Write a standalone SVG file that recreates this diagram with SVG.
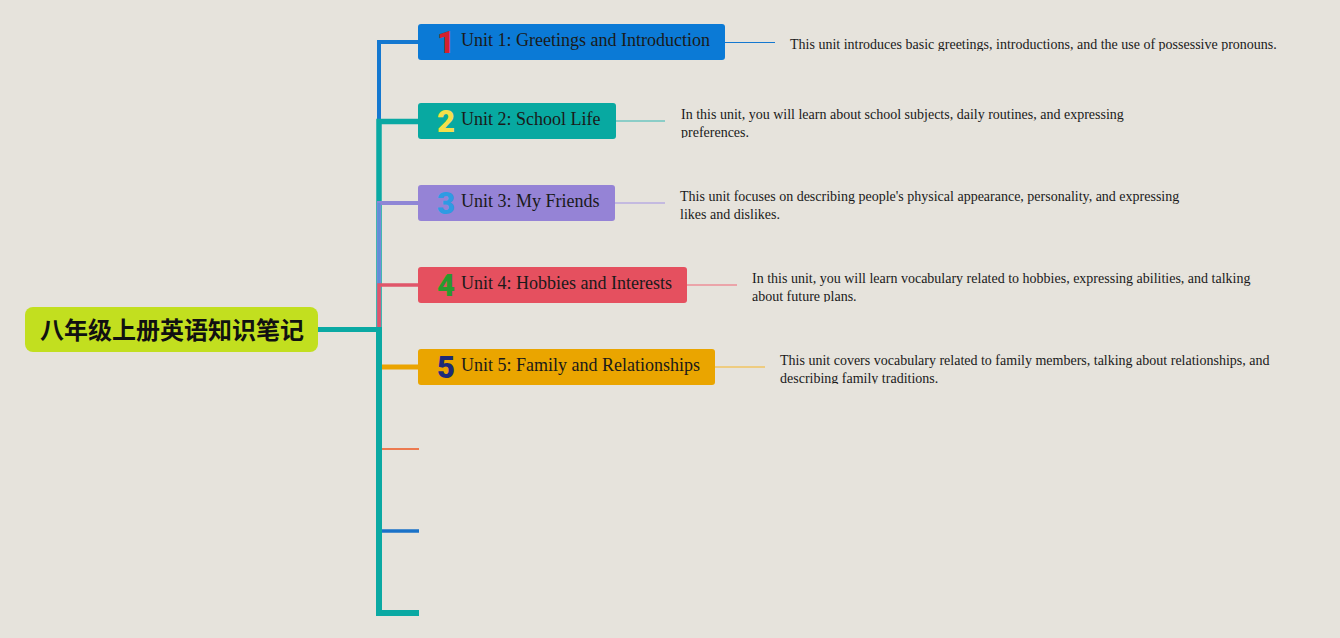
<svg xmlns="http://www.w3.org/2000/svg" width="1340" height="638" viewBox="0 0 1340 638">
<defs>
<style>
.box{rx:3;ry:3}
.num{font-family:Roboto,"Noto Sans",sans-serif;font-weight:900;font-size:31px;text-anchor:middle}
.lbl{font-family:"Liberation Serif",serif;font-size:18px;fill:#1a1a1a}
.desc{font-family:"Liberation Serif",serif;font-size:14px;fill:#1a1a1a}
.ln{fill:none;stroke-linejoin:miter;stroke-linecap:butt}
</style>
<clipPath id="c1"><rect x="780" y="28" width="520" height="23"/></clipPath>
<clipPath id="c2"><rect x="670" y="103" width="520" height="35"/></clipPath>
<clipPath id="c3"><rect x="670" y="185" width="540" height="36"/></clipPath>
<clipPath id="c4"><rect x="740" y="267" width="540" height="35"/></clipPath>
<clipPath id="c5"><rect x="770" y="349" width="540" height="35"/></clipPath>
</defs>
<rect width="1340" height="638" fill="#e6e3dc"/>

<g id="connectors">
<path class="ln" d="M379 329 V42 H418" stroke="#1478d0" stroke-width="4"/>
<path class="ln" d="M379 329 V121.5 H418" stroke="#0aa9a3" stroke-width="5.5"/>
<path class="ln" d="M379 329 V203 H418" stroke="#8f86d6" stroke-width="4"/>
<path class="ln" d="M379 329 V203" stroke="#5e8fd8" stroke-width="3"/>
<path class="ln" d="M379 329 V285 H418" stroke="#e0566a" stroke-width="3.5"/>
<path class="ln" d="M318 329.5 H382" stroke="#0aa9a3" stroke-width="5"/>
<path class="ln" d="M379 329 V367 H418" stroke="#eaa400" stroke-width="5"/>
<path class="ln" d="M382 449 H419" stroke="#ec7a50" stroke-width="2"/>
<path class="ln" d="M382 531 H419" stroke="#1a72c8" stroke-width="3.5"/>
<path class="ln" d="M379 329 V613 H419" stroke="#0aa9a3" stroke-width="6"/>
<path class="ln" d="M725 42.5 H775" stroke="#1478d0" stroke-width="1.2"/>
<path class="ln" d="M616 121 H665" stroke="#6cc6c1" stroke-width="1.5"/>
<path class="ln" d="M615 203 H665" stroke="#b8ace2" stroke-width="1.5"/>
<path class="ln" d="M687 285 H737" stroke="#ec8f99" stroke-width="1.5"/>
<path class="ln" d="M715 367 H765" stroke="#f0c462" stroke-width="1.5"/>
</g>

<g id="root">
<rect x="25" y="307" width="293" height="45" rx="8" fill="#c2df1f"/>
<text x="172" y="339" text-anchor="middle" font-family="'Noto Sans CJK SC','Noto Sans',sans-serif" font-weight="bold" font-size="24" fill="#111">八年级上册英语知识笔记</text>
</g>

<g id="unit1">
<rect class="box" x="418" y="24" width="307" height="36" fill="#0b7ad6"/>
<text class="num" x="446" y="53" fill="#d4202e">1</text>
<text class="lbl" x="461" y="46">Unit 1: Greetings and Introduction</text>
<text class="desc" x="790" y="49" clip-path="url(#c1)">This unit introduces basic greetings, introductions, and the use of possessive pronouns.</text>
</g>

<g id="unit2">
<rect class="box" x="418" y="103" width="198" height="36" fill="#08a9a1"/>
<text class="num" x="446" y="132" fill="#f5e04a">2</text>
<text class="lbl" x="461" y="125">Unit 2: School Life</text>
<g clip-path="url(#c2)">
<text class="desc" x="681" y="119">In this unit, you will learn about school subjects, daily routines, and expressing</text>
<text class="desc" x="681" y="137">preferences.</text>
</g>
</g>

<g id="unit3">
<rect class="box" x="418" y="185" width="197" height="36" fill="#9583d6"/>
<text class="num" x="446" y="214" fill="#2e9be3">3</text>
<text class="lbl" x="461" y="207">Unit 3: My Friends</text>
<g clip-path="url(#c3)">
<text class="desc" x="680" y="201">This unit focuses on describing people's physical appearance, personality, and expressing</text>
<text class="desc" x="680" y="219">likes and dislikes.</text>
</g>
</g>

<g id="unit4">
<rect class="box" x="418" y="267" width="269" height="36" fill="#e5505f"/>
<text class="num" x="446" y="296" fill="#2a9a2e">4</text>
<text class="lbl" x="461" y="289">Unit 4: Hobbies and Interests</text>
<g clip-path="url(#c4)">
<text class="desc" x="752" y="283">In this unit, you will learn vocabulary related to hobbies, expressing abilities, and talking</text>
<text class="desc" x="752" y="301">about future plans.</text>
</g>
</g>

<g id="unit5">
<rect class="box" x="418" y="349" width="297" height="36" fill="#eaa500"/>
<text class="num" x="446" y="378" fill="#1e2a78">5</text>
<text class="lbl" x="461" y="371">Unit 5: Family and Relationships</text>
<g clip-path="url(#c5)">
<text class="desc" x="780" y="365">This unit covers vocabulary related to family members, talking about relationships, and</text>
<text class="desc" x="780" y="383">describing family traditions.</text>
</g>
</g>
</svg>
